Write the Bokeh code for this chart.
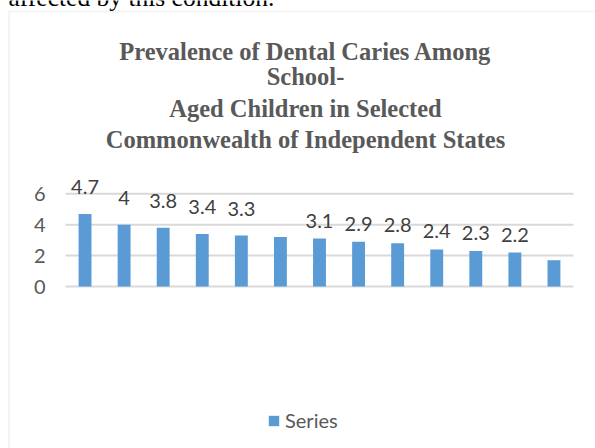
from bokeh.plotting import figure
from bokeh.models import (Range1d, Label, BoxAnnotation, Legend,
                          LegendItem, ColumnDataSource)
from bokeh.core.properties import value
from bokeh.embed import file_html
from bokeh.resources import INLINE

# ---- data ----
positions = list(range(1, 14))
values = [4.7, 4.0, 3.8, 3.4, 3.3, 3.2, 3.1, 2.9, 2.8, 2.4, 2.3, 2.2, 1.7]
value_labels = ["4.7", "4", "3.8", "3.4", "3.3", "", "3.1", "2.9", "2.8", "2.4", "2.3", "2.2", ""]
y_ticks = [0, 2, 4, 6]
y_tick_labels = ["0", "2", "4", "6"]
title_lines = ["Prevalence of Dental Caries Among", "School-",
               "Aged Children in Selected", "Commonwealth of Independent States"]
series_name = "Series"
context_text = "affected by this condition."

BAR = "#5b9bd5"
GRID = "#d9d9d9"
TXT = "#595959"

W, H = 595, 448
PLOT_L, PLOT_R = 65, 573          # pixel extent of the plot area
Y0_PX, PX_PER_UNIT = 286, 15.45   # pixel row of value 0, pixels per unit
cat_px = (PLOT_R - PLOT_L) / len(positions)
x_start = positions[0] - 0.5 - PLOT_L / cat_px
x_end = positions[-1] + 0.5 + (W - PLOT_R) / cat_px
y_start = -(H - Y0_PX) / PX_PER_UNIT
y_end = Y0_PX / PX_PER_UNIT

p = figure(width=W, height=H, output_backend="svg", toolbar_location=None,
           x_range=Range1d(x_start, x_end), y_range=Range1d(y_start, y_end),
           min_border=0)
p.outline_line_color = None
p.background_fill_color = "white"
p.border_fill_color = "white"
p.axis.visible = False
p.grid.visible = False

# chart-area border
p.add_layout(BoxAnnotation(left=8.5, right=W + 20, top=H - 11, bottom=-20,
                           left_units="screen", right_units="screen",
                           top_units="screen", bottom_units="screen",
                           fill_alpha=0, line_color=GRID, line_width=2, level="underlay"))

# horizontal gridlines across the category span
x_lo = positions[0] - 0.5
x_hi = positions[-1] + 0.5
p.segment(x0=[x_lo] * len(y_ticks), x1=[x_hi] * len(y_ticks), y0=y_ticks, y1=y_ticks,
          line_color=GRID, line_width=2)
# y tick labels
p.text(x=[x_lo] * len(y_ticks), y=y_ticks, text=y_tick_labels, x_offset=-20,
       text_align="right", text_baseline="middle", text_font=value("Lato"),
       text_font_size="20px", text_color=TXT)

src = ColumnDataSource(dict(x=positions, top=values, lab=value_labels,
                            off=[-27 if i < 5 else -18 for i in range(len(values))]))
bars = p.vbar(x="x", top="top", width=0.33, source=src, fill_color=BAR, line_color=None)
p.text(x="x", y="top", text="lab", y_offset="off", source=src, text_align="center",
       text_baseline="middle", text_font_size="20px", text_color="#404040",
       text_font=value("Lato"))

# surrounding document text (cut off by the top edge, as in the source page)
p.add_layout(Label(x=8, y=H + 3, x_units="screen", y_units="screen", text=context_text,
                   text_font="Liberation Serif", text_font_size="25.5px",
                   text_color="black", text_baseline="alphabetic"))

baselines = [51, 76, 108, 139]
for line, b in zip(title_lines, baselines):
    p.add_layout(Label(x=305, y=H - b, x_units="screen", y_units="screen", text=line,
                       text_align="center", text_baseline="alphabetic",
                       text_font="Liberation Serif", text_font_style="bold",
                       text_font_size="24.5px", text_color=TXT))

legend = Legend(items=[LegendItem(label=series_name, renderers=[bars])],
                location=(267, 16), orientation="horizontal",
                glyph_width=13, glyph_height=13, label_standoff=5,
                label_text_font="Lato", label_text_font_size="20px",
                label_text_color=TXT, padding=0, margin=0,
                border_line_color=None, background_fill_alpha=0)
p.add_layout(legend, "center")

open("out.html", "w").write(file_html(p, INLINE))
